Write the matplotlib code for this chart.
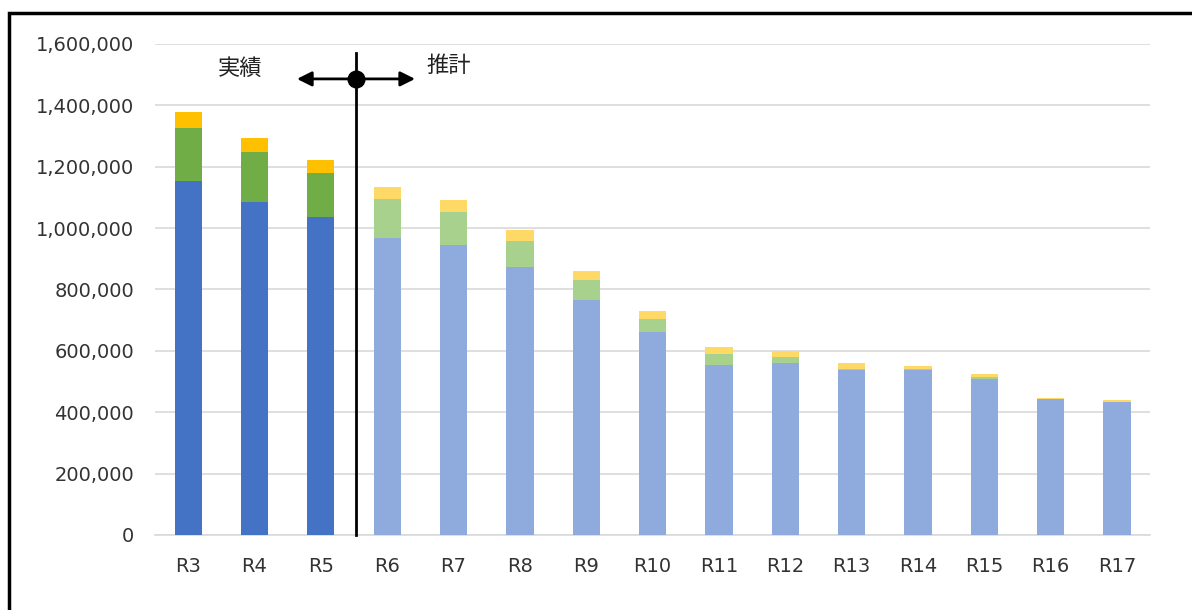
import matplotlib.pyplot as plt
from matplotlib.patches import Rectangle
import numpy as np

plt.rcParams['font.family'] = ['DejaVu Sans', 'Noto Sans CJK JP']

# Categories and values (people)
years = ["R3", "R4", "R5", "R6", "R7", "R8", "R9", "R10",
         "R11", "R12", "R13", "R14", "R15", "R16", "R17"]
blue_vals = [1153000, 1086000, 1035000, 967000, 945000, 872000, 766000, 662000,
             554000, 560000, 538000, 537000, 508000, 442000, 433000]
green_vals = [173000, 161000, 146000, 127000, 108000, 87000, 65000, 42000,
              36000, 19000, 3000, 3000, 7000, 1000, 1000]
yellow_vals = [52000, 48000, 41000, 39000, 39000, 35000, 30000, 27000,
               22000, 22000, 19000, 11000, 9000, 4000, 6000]
n_actual = 3  # R3..R5 are actual values, the rest are estimates

# Colours: actual (dark) and estimate (light)
blue_c = ["#4472C4"] * n_actual + ["#8FAADC"] * (len(years) - n_actual)
green_c = ["#70AD47"] * n_actual + ["#A9D18E"] * (len(years) - n_actual)
yellow_c = ["#FFC000"] * n_actual + ["#FFD966"] * (len(years) - n_actual)

fig = plt.figure(figsize=(11.92, 6.10), dpi=100)
ax = fig.add_axes([0.130, 0.123, 0.835, 0.805])

index = np.arange(len(years))
bar_width = 0.41
blue = np.array(blue_vals)
green = np.array(green_vals)
yellow = np.array(yellow_vals)

ax.bar(index, blue, bar_width, color=blue_c, zorder=3)
ax.bar(index, green, bar_width, bottom=blue, color=green_c, zorder=3)
ax.bar(index, yellow, bar_width, bottom=blue + green, color=yellow_c, zorder=3)

ax.set_xlim(-0.5, len(years) - 0.5)
ax.set_ylim(0, 1600000)
ax.set_yticks(np.arange(0, 1600001, 200000))
ax.set_yticklabels([f"{v:,}" for v in range(0, 1600001, 200000)])
ax.set_xticks(index)
ax.set_xticklabels(years)
ax.tick_params(length=0, labelsize=14, colors="#333333")
ax.tick_params(axis="x", pad=16)
ax.tick_params(axis="y", pad=15)
ax.grid(True, axis="y", color="#D9D9D9", linewidth=1.2, zorder=0)
for s in ["top", "right", "left"]:
    ax.spines[s].set_visible(False)
ax.spines["bottom"].set_color("#D9D9D9")
ax.spines["bottom"].set_linewidth(1.2)

# Divider between actual and estimate
div_x = 2.53
ax.plot([div_x, div_x], [0, 1570000], color="black", linewidth=2, zorder=5,
        clip_on=False)
ax.annotate("", xy=(1.64, 1486000), xytext=(div_x, 1486000),
            arrowprops=dict(arrowstyle="-|>", color="black", lw=2,
                            mutation_scale=22, shrinkA=0, shrinkB=0), zorder=6)
ax.annotate("", xy=(3.42, 1486000), xytext=(div_x, 1486000),
            arrowprops=dict(arrowstyle="-|>", color="black", lw=2,
                            mutation_scale=22, shrinkA=0, shrinkB=0), zorder=6)
ax.plot([div_x], [1486000], "o", color="black", markersize=12, zorder=7,
        clip_on=False)
ax.text(0.78, 1520000, "実績", fontsize=16, ha="center", va="center",
        family=["Noto Sans CJK JP", "DejaVu Sans"], color="#222222")
ax.text(3.92, 1530000, "推計", fontsize=16, ha="center", va="center",
        family=["Noto Sans CJK JP", "DejaVu Sans"], color="#222222")

# Outer frame (only left/top edges visible in the crop)
fig.patches.append(Rectangle((9 / 1192, -0.05), 1.2, (610 - 13) / 610 + 0.05,
                             transform=fig.transFigure, fill=False,
                             edgecolor="black", linewidth=2.5))

fig.savefig("out.png", dpi=100)
